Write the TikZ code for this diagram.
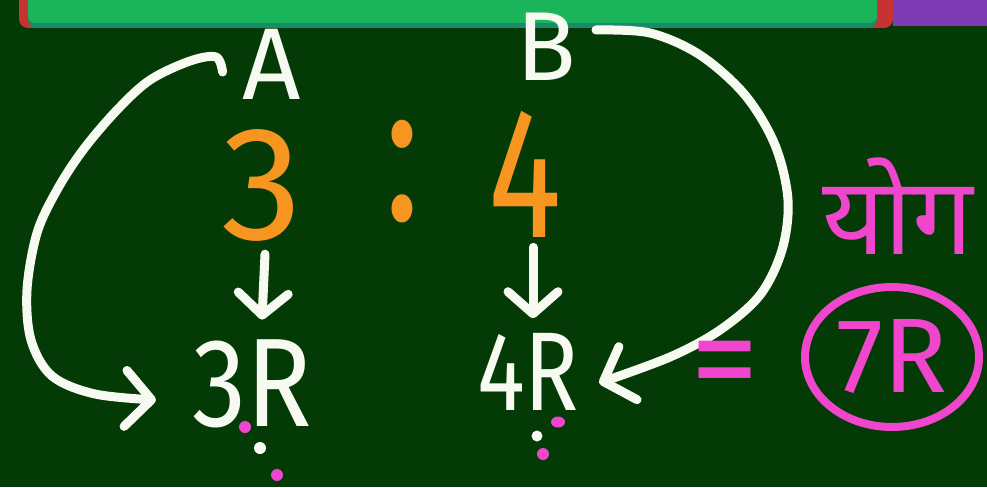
\documentclass[tikz,border=0pt]{standalone}
\usepackage{fontspec}
\setmainfont{Fira Sans}
\newfontfamily\devfont[Script=Devanagari]{Noto Sans}
\usetikzlibrary{arrows.meta,shapes.geometric,calc}
\definecolor{board}{RGB}{3,58,5}
\definecolor{chalk}{RGB}{246,250,240}
\definecolor{marker}{RGB}{246,150,32}
\definecolor{magentapen}{RGB}{240,70,205}
\definecolor{barGreen}{RGB}{28,180,90}
\definecolor{barTeal}{RGB}{22,140,110}
\definecolor{barPurple}{RGB}{125,60,180}
\definecolor{barRed}{RGB}{200,50,50}
\begin{document}
\begin{tikzpicture}[x=1pt,y=-1pt,
  lbl/.style={inner sep=0pt, anchor=center},
  whitetxt/.style={lbl, text=chalk},
  orangetxt/.style={lbl, text=marker},
  pinktxt/.style={lbl, text=magentapen},
  conn/.style={draw=chalk, line width=9pt, line cap=round, line join=round},
  downtip/.style={-{Straight Barb[length=22pt,width=50pt,round]}},
  curvetip/.style={-{Straight Barb[length=26pt,width=56pt,round]}},
  pinkdot/.style={fill=magentapen},
  whitedot/.style={fill=chalk}]

% board and top toolbar
\fill[board] (0,0) rectangle (987,487);
\useasboundingbox (0,0) rectangle (987,487);
\fill[barRed, rounded corners=9pt] (19,-12) rectangle (893,28);
\fill[barTeal, rounded corners=9pt] (28,-12) rectangle (877,28);
\fill[barGreen, rounded corners=7pt] (28,-12) rectangle (877,23);
\fill[barPurple] (893,0) rectangle (987,26);

% labels of the two parts
\node[whitetxt, font=\fontsize{102}{102}\selectfont] (a) at (272,64) {A};
\node[whitetxt, font=\fontsize{98}{98}\selectfont] (b) at (546,47) {B};

% the ratio
\node[orangetxt, font=\fontsize{162}{162}\selectfont] (three) at (262,185) {3};
\node[orangetxt, font=\fontsize{150}{150}\selectfont] (colon) at (402,172) {\scalebox{1}[1.35]{:}};
\node[orangetxt, font=\fontsize{186}{186}\selectfont] (four) at (525,174) {\scalebox{0.74}[1]{4}};

% parts in terms of R
\node[whitetxt, font=\fontsize{126}{126}\selectfont] (r3) at (252,384) {\scalebox{0.86}[1]{3R}};
\node[whitetxt, font=\fontsize{112}{112}\selectfont] (r4) at (528,372) {\scalebox{0.8}[1]{4R}};

% short arrows from each term to its part
\draw[conn, downtip] ([xshift=3pt,yshift=-13pt]three.south) -- ([yshift=20pt]three.south |- r3.north);
\draw[conn, downtip] ([xshift=8pt,yshift=-10pt]four.south) -- ([xshift=8pt,yshift=15pt]four.south |- r4.north);

% curved arrow from A to 3R
\draw[conn, curvetip] plot[smooth, tension=0.55] coordinates {
  ($(a.west)+(-20,8)$) (216,57) (190,61) (150,80) (117,110) (83,150) (57,190)
  (37,233) (27,290) (31,340) (52,376) (95,394) ($(r3.west)+(-36,16)$)};

% curved arrow from B to 4R
\draw[conn, curvetip] plot[smooth, tension=0.55] coordinates {
  ($(b.east)+(20,-17)$) (650,33) (700,55) (745,95) (775,145) (788,200)
  (782,250) (760,295) (720,330) (670,357) ($(r4.east)+(20,11)$)};

% sum
\node[pinktxt, font=\fontsize{138}{138}\selectfont] (eq) at (725,373) {=};
\node[pinktxt, font=\devfont\fontsize{108}{108}\selectfont] (yog) at (898,206) {योग};
\node[pinktxt, draw=magentapen, line width=8pt, ellipse, minimum width=174pt,
      minimum height=140pt, font=\fontsize{106}{106}\selectfont] (sum) at (892,357) {7R};

% dotted marks under 3R and 4R
\fill[pinkdot]  (245,427) circle (6pt);
\fill[whitedot] (260,448) circle (6pt);
\fill[pinkdot]  (277,475) circle (6pt);
\fill[pinkdot]  (558,422) ellipse (7pt and 5.5pt);
\fill[whitedot] (537,436) circle (5.5pt);
\fill[pinkdot]  (543,454) circle (6pt);
\end{tikzpicture}
\end{document}
